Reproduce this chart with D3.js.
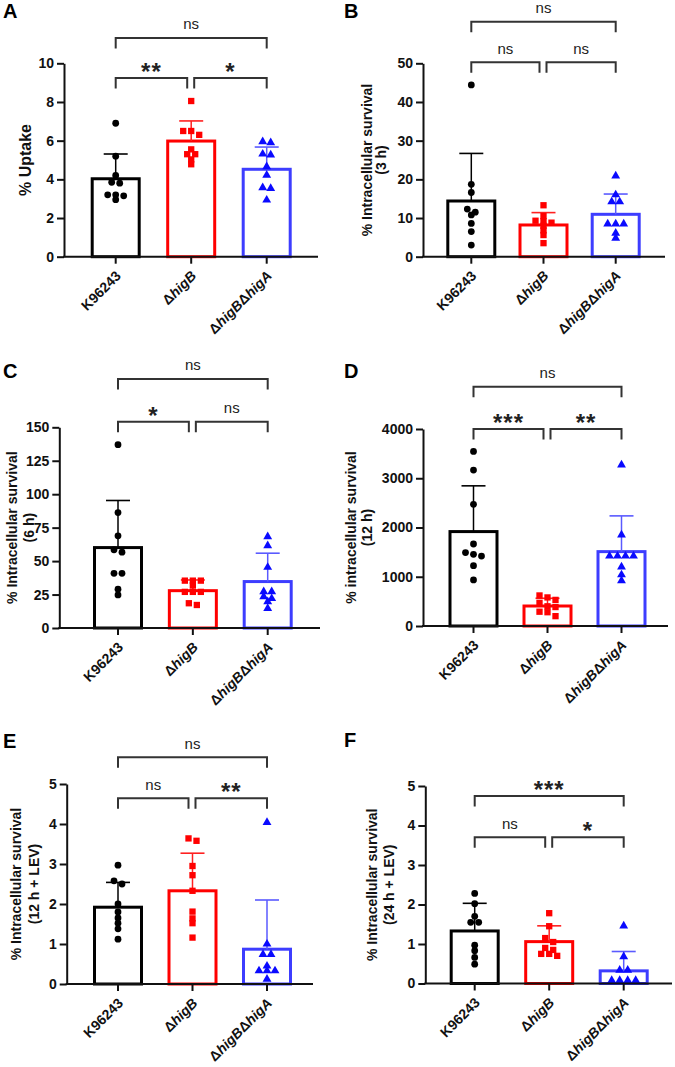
<!DOCTYPE html>
<html><head><meta charset="utf-8">
<script src="https://cdn.jsdelivr.net/npm/d3@7"></script>
<style>body{margin:0;background:#fff}svg{display:block}</style>
</head><body><svg id="c" width="675" height="1067"></svg>
<script>
// ---------------- DATA ----------------
const categories = ["K96243", "ΔhigB", "ΔhigBΔhigA"];
const panelNames = ["A", "B", "C", "D", "E", "F"];

const yTitlesA = ["% Uptake"];
const yTitlesB = ["% Intracellular survival", "(3 h)"];
const yTitlesC = ["% Intracellular survival", "(6 h)"];
const yTitlesD = ["% intracellular survival", "(12 h)"];
const yTitlesE = ["% Intracellular survival", "(12 h + LEV)"];
const yTitlesF = ["% Intracellular survival", "(24 h + LEV)"];

const yTicksA = [0, 2, 4, 6, 8, 10];
const yTicksB = [0, 10, 20, 30, 40, 50];
const yTicksC = [0, 25, 50, 75, 100, 125, 150];
const yTicksD = [0, 1000, 2000, 3000, 4000];
const yTicksE = [0, 1, 2, 3, 4, 5];
const yTicksF = [0, 1, 2, 3, 4, 5];

// individual replicate values per strain (K96243, ΔhigB, ΔhigBΔhigA)
const valuesA = [[6.9, 5.2, 4.2, 3.85, 3.8, 3.2, 3.2, 3.15, 2.95],
                 [8.05, 6.5, 6.5, 6.3, 5.55, 5.3, 5.3, 5.03, 4.78],
                 [5.95, 5.9, 5.31, 5.26, 4.66, 4.22, 3.57, 3.53, 2.93]];
const valuesB = [[44.4, 18.7, 16.6, 12.3, 11.5, 10.8, 8.6, 6.5, 3.0],
                 [13.3, 10.5, 9.3, 9.2, 8.8, 8.0, 6.8, 5.6, 3.5],
                 [20.9, 16.0, 14.2, 14.2, 8.5, 8.5, 8.5, 6.1, 4.8]];
const valuesC = [[137, 86.3, 68.9, 58.4, 56.7, 40.9, 40.9, 29, 24.7],
                 [35.4, 35.4, 35.4, 31.8, 27, 27, 27, 18.5, 17.2],
                 [68.3, 61.6, 45.4, 27.2, 27.2, 23.4, 22, 19.7, 14.7]];
const valuesD = [[3545, 3165, 2470, 1665, 1490, 1455, 1420, 1225, 935],
                 [620, 580, 530, 470, 400, 385, 290, 280, 200],
                 [3270, 1850, 1420, 1420, 1420, 1420, 1200, 1040, 920]];
const valuesE = [[2.97, 2.58, 2.5, 2.0, 1.8, 1.65, 1.52, 1.38, 1.12],
                 [3.64, 3.58, 2.95, 2.72, 2.33, 1.81, 1.64, 1.52, 1.16],
                 [4.04, 1.0, 0.74, 0.74, 0.45, 0.33, 0.33, 0.33, 0.12]];
const valuesF = [[2.28, 2.02, 1.7, 1.55, 1.55, 0.97, 0.83, 0.66, 0.49],
                 [1.78, 1.45, 1.15, 1.05, 0.9, 0.85, 0.75, 0.75, 0.7],
                 [1.46, 0.68, 0.34, 0.34, 0.08, 0.08, 0.08, 0.08]];

// bar heights (mean) and error bars (SD)
const meansA = [4.03, 5.98, 4.52], sdA = [1.28, 1.04, 1.15];
const meansB = [14.4, 8.2, 10.96], sdB = [12.3, 3.2, 5.24];
const meansC = [60.1, 27.9, 34.7], sdC = [35.2, 8.0, 21.2];
const meansD = [1917, 406, 1510], sdD = [929, 157, 726];
const meansE = [1.92, 2.33, 0.87], sdE = [0.62, 0.94, 1.23];
const meansF = [1.33, 1.06, 0.32], sdF = [0.70, 0.40, 0.49];

// significance labels: [K96243 vs ΔhigB, ΔhigB vs ΔhigBΔhigA, K96243 vs ΔhigBΔhigA]
const sigA = ["**", "*", "ns"];
const sigB = ["ns", "ns", "ns"];
const sigC = ["*", "ns", "ns"];
const sigD = ["***", "**", "ns"];
const sigE = ["ns", "**", "ns"];
const sigF = ["ns", "*", "***"];

// ---------------- LAYOUT ----------------
const layout = {
  A: {x0: 64, xEnd: 318, y0: 256.7, yTop: 63.3, c0: 115.7, c2: 266.7, brTop: 38, brLow: 78,
      title: [3, 18], lab: {x: 25, fs: 16, lh: 0}},
  B: {x0: 423, xEnd: 665, y0: 256.7, yTop: 63.3, c0: 471.3, c2: 615.7, brTop: 21.7, brLow: 62.3,
      title: [344, 18], lab: {x: 374, fs: 14, lh: 14}},
  C: {x0: 59.3, xEnd: 320, y0: 628, yTop: 427.3, c0: 118, c2: 267.7, brTop: 379, brLow: 421.7,
      title: [3, 378], lab: {x: 21, fs: 14, lh: 17}},
  D: {x0: 423, xEnd: 668, y0: 626, yTop: 429, c0: 473.5, c2: 621.5, brTop: 386.7, brLow: 429,
      title: [344, 378], lab: {x: 359, fs: 14, lh: 16}},
  E: {x0: 66.7, xEnd: 313, y0: 984, yTop: 784, c0: 118, c2: 267, brTop: 757.3, brLow: 798.3,
      title: [3, 748], lab: {x: 25, fs: 14, lh: 18}},
  F: {x0: 425.3, xEnd: 672, y0: 983.5, yTop: 786, c0: 474.7, c2: 623.7, brTop: 796, brLow: 837.3,
      title: [344, 747], lab: {x: 381, fs: 14, lh: 17}}
};

const panels = {
  A: {titles: yTitlesA, ticks: yTicksA, values: valuesA, means: meansA, sd: sdA, sig: sigA},
  B: {titles: yTitlesB, ticks: yTicksB, values: valuesB, means: meansB, sd: sdB, sig: sigB},
  C: {titles: yTitlesC, ticks: yTicksC, values: valuesC, means: meansC, sd: sdC, sig: sigC},
  D: {titles: yTitlesD, ticks: yTicksD, values: valuesD, means: meansD, sd: sdD, sig: sigD},
  E: {titles: yTitlesE, ticks: yTicksE, values: valuesE, means: meansE, sd: sdE, sig: sigE},
  F: {titles: yTitlesF, ticks: yTicksF, values: valuesF, means: meansF, sd: sdF, sig: sigF}
};

const FONT = "'Liberation Sans', Arial, Helvetica, sans-serif";
const barColors = ["#000000", "#ff0000", "#3d3dff"];
const errColors = ["#000000", "#ff2020", "#5a5aff"];
const ptColors = ["#000000", "#ff0000", "#0a0aff"];
const symbols = [d3.symbolCircle, d3.symbolSquare, d3.symbolTriangle];
const symSizes = [36, 40, 34];
const BAR_W = 47;

const svg = d3.select("#c");
svg.append("rect").attr("width", 675).attr("height", 1067).attr("fill", "#fff");

function swarm(vals, y, cx) {
  const pts = vals.map(v => ({v, py: y(v)})).sort((a, b) => a.py - b.py);
  const clusters = [];
  pts.forEach(p => {
    const last = clusters[clusters.length - 1];
    if (last && p.py - last[0].py < 4.5) last.push(p); else clusters.push([p]);
  });
  const out = [];
  clusters.forEach(cl => {
    const n = cl.length;
    cl.forEach((p, i) => out.push({v: p.v, px: cx + (i - (n - 1) / 2) * 8, py: p.py}));
  });
  return out;
}

panelNames.forEach(name => {
  const L = layout[name], P = panels[name];
  const g = svg.append("g");
  const yMax = P.ticks[P.ticks.length - 1];
  const y = d3.scaleLinear().domain([0, yMax]).range([L.y0, L.yTop]);
  const x = d3.scalePoint().domain(categories).range([L.c0, L.c2]);

  // panel letter
  g.append("text").attr("x", L.title[0]).attr("y", L.title[1])
    .attr("font-family", FONT).attr("font-weight", "bold").attr("font-size", 20)
    .text(name);

  // bars
  categories.forEach((c, i) => {
    const cx = x(c);
    g.append("rect").attr("x", cx - BAR_W / 2).attr("y", y(P.means[i]))
      .attr("width", BAR_W).attr("height", L.y0 - y(P.means[i]))
      .attr("fill", "#fff").attr("stroke", barColors[i]).attr("stroke-width", 3);
  });
  // error bars
  categories.forEach((c, i) => {
    const cx = x(c), top = y(P.means[i] + P.sd[i]);
    g.append("line").attr("x1", cx).attr("x2", cx).attr("y1", y(P.means[i])).attr("y2", top)
      .attr("stroke", errColors[i]).attr("stroke-width", 1.5);
    g.append("line").attr("x1", cx - 12).attr("x2", cx + 12).attr("y1", top).attr("y2", top)
      .attr("stroke", errColors[i]).attr("stroke-width", 1.6);
  });
  // points
  categories.forEach((c, i) => {
    const pts = swarm(P.values[i], y, x(c));
    g.selectAll(null).data(pts).enter().append("path")
      .attr("d", d3.symbol().type(symbols[i]).size(symSizes[i]))
      .attr("transform", d => `translate(${d.px},${d.py})`)
      .attr("fill", ptColors[i]);
  });

  // y axis
  const ya = g.append("g").attr("transform", `translate(${L.x0},0)`)
    .call(d3.axisLeft(y).tickValues(P.ticks).tickFormat(d3.format("d"))
      .tickSize(7).tickSizeOuter(0).tickPadding(3));
  ya.select(".domain").attr("stroke", "#111").attr("stroke-width", 2);
  ya.selectAll(".tick line").attr("stroke", "#111").attr("stroke-width", 2);
  ya.selectAll(".tick text").attr("font-family", FONT).attr("font-weight", "bold")
    .attr("font-size", 14).attr("fill", "#111");

  // x axis
  g.append("line").attr("x1", L.x0 - 1).attr("x2", L.xEnd).attr("y1", L.y0).attr("y2", L.y0)
    .attr("stroke", "#111").attr("stroke-width", 2);
  categories.forEach((c, i) => {
    const cx = x(c);
    g.append("line").attr("x1", cx).attr("x2", cx).attr("y1", L.y0).attr("y2", L.y0 + 7)
      .attr("stroke", "#111").attr("stroke-width", 2);
    const t = g.append("text")
      .attr("transform", `translate(${cx + 6},${L.y0 + 20}) rotate(-45)`)
      .attr("text-anchor", "end").attr("font-family", FONT).attr("font-weight", "bold")
      .attr("font-size", 14).attr("fill", "#111");
    if (i === 0) t.text(c);
    else {
      c.split("Δ").filter(s => s).forEach(part => {
        t.append("tspan").text("Δ");
        t.append("tspan").attr("font-style", "italic").text(part);
      });
    }
  });

  // y title
  const lines = P.titles;
  const cy = (L.y0 + L.yTop) / 2;
  const yt = g.append("text").attr("transform", `translate(${L.lab.x},${cy}) rotate(-90)`)
    .attr("text-anchor", "middle").attr("font-family", FONT).attr("font-weight", "bold")
    .attr("font-size", L.lab.fs).attr("fill", "#111");
  lines.forEach((ln, k) => {
    const off = (k - (lines.length - 1) / 2) * L.lab.lh;
    yt.append("tspan").attr("x", 0).attr("y", off).attr("dy", "0.35em").text(ln);
  });

  // significance brackets
  const c0 = x(categories[0]), c1 = x(categories[1]), c2 = x(categories[2]);
  const br = [
    {a: c0, b: c1 - 4, yb: L.brLow, s: P.sig[0]},
    {a: c1 + 3, b: c2, yb: L.brLow, s: P.sig[1]},
    {a: c0, b: c2, yb: L.brTop, s: P.sig[2]}
  ];
  br.forEach(d => {
    g.append("path").attr("d", `M${d.a},${d.yb + 10.5}V${d.yb}H${d.b}V${d.yb + 10.5}`)
      .attr("fill", "none").attr("stroke", "#333").attr("stroke-width", 2);
    const mx = (d.a + d.b) / 2;
    if (d.s === "ns") {
      g.append("text").attr("x", mx).attr("y", d.yb - 14).attr("dy", "0.35em")
        .attr("text-anchor", "middle").attr("font-family", FONT).attr("font-size", 15)
        .attr("fill", "#222").text(d.s);
    } else {
      g.append("text").attr("x", mx).attr("y", d.yb - 13).attr("dy", "0.62em")
        .attr("text-anchor", "middle").attr("font-family", FONT).attr("font-weight", "bold")
        .attr("font-size", 24).attr("letter-spacing", 1).attr("fill", "#222").text(d.s);
    }
  });
});
</script>
</body></html>
